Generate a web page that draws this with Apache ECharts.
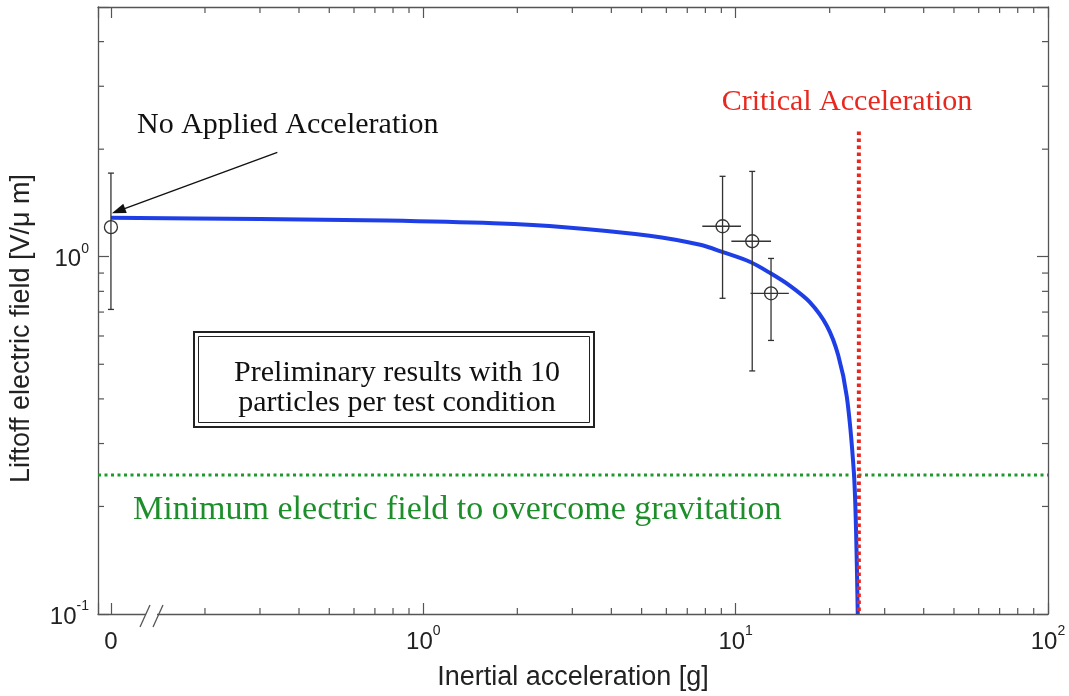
<!DOCTYPE html>
<html>
<head>
<meta charset="utf-8">
<script src="https://cdn.jsdelivr.net/npm/echarts@6/dist/echarts.min.js"></script>
<style>
  html, body { margin: 0; padding: 0; background: #fff; }
  #chart { width: 1069px; height: 696px; }
</style>
</head>
<body>
<div id="chart"></div>
<script>
// model curve (liftoff field vs inertial acceleration)
const curveX = [0.1, 0.3, 0.76, 1.68, 2.83, 5.3, 7.7, 9.1, 11.1, 12.9, 14.9, 17.3, 19.6, 21.3, 22.7, 23.9, 24.3, 24.6]
const curveY = [1.285, 1.275, 1.262, 1.24, 1.21, 1.145, 1.08, 1.03, 0.968, 0.9, 0.83, 0.745, 0.64, 0.53, 0.405, 0.25, 0.17, 0.1]

// measured points with error bars (x = 0.1 stands for "0" on the broken axis)
const pointX = [0.1, 9.08, 11.3, 12.98]
const pointY = [1.21, 1.217, 1.105, 0.79]
const pointYLow = [0.712, 0.765, 0.479, 0.583]
const pointYHigh = [1.714, 1.679, 1.733, 0.989]
const pointXLow = [0.1, 7.82, 9.69, 11.16]
const pointXHigh = [0.1, 10.4, 12.98, 14.8]

// reference lines
const criticalAcc = 24.8
const criticalTop = 2.24
const minField = 0.245

// axes
const xMin = 0.0909
const xMax = 100
const yMin = 0.1
const yMax = 5
const xMinorTicks = [0.2, 0.3, 0.4, 0.5, 0.6, 0.7, 0.8, 0.9, 2, 3, 4, 5, 6, 7, 8, 9, 20, 30, 40, 50, 60, 70, 80, 90]
const yMinorTicks = [0.2, 0.3, 0.4, 0.5, 0.6, 0.7, 0.8, 0.9, 2, 3, 4]

// arrow for "No Applied Acceleration"
const arrowFrom = [0.341, 1.96]
const arrowTo = [0.1057, 1.344]

const AX = '#555'
const SANS = '"Liberation Sans", Arial, Helvetica, sans-serif'
const SERIF = '"Liberation Serif", "Times New Roman", serif'

const powLabel = zeroAtMin => v => {
  const e = Math.log10(v)
  const r = Math.round(e)
  if (Math.abs(e - r) > 1e-6) return ''
  if (zeroAtMin && r === -1) return '{b|0}'
  return '{b|10}{s|' + r + '}'
}

const labelRich = {
  b: { fontSize: 24, lineHeight: 30, fontFamily: SANS, color: '#222', verticalAlign: 'bottom' },
  s: { fontSize: 14, lineHeight: 8, fontFamily: SANS, color: '#222', verticalAlign: 'top' }
}

const baseAxis = {
  type: 'log',
  logBase: 10,
  axisLine: { show: true, lineStyle: { color: AX, width: 1.3 } },
  axisTick: { show: true, inside: true, length: 11, lineStyle: { color: AX, width: 1.2 } },
  splitLine: { show: false },
  minorTick: { show: false }
}

const tickLine = (x1, y1, x2, y2) => ({
  type: 'line',
  shape: { x1, y1, x2, y2 },
  style: { stroke: AX, lineWidth: 1.2 }
})

const option = {
  animation: false,
  backgroundColor: '#fff',
  grid: { left: 98, right: 21, top: 7, bottom: 79, containLabel: false },
  xAxis: [
    {
      ...baseAxis,
      min: xMin,
      max: xMax,
      position: 'bottom',
      name: 'Inertial acceleration [g]',
      nameLocation: 'middle',
      nameGap: 50,
      nameTextStyle: { fontSize: 27, fontFamily: SANS, color: '#222' },
      axisLabel: { margin: 10, formatter: powLabel(true), rich: labelRich }
    },
    {
      ...baseAxis,
      min: xMin,
      max: xMax,
      position: 'top',
      axisLabel: { show: false }
    }
  ],
  yAxis: [
    {
      ...baseAxis,
      min: yMin,
      max: yMax,
      position: 'left',
      name: 'Liftoff electric field [V/\u03bc m]',
      nameLocation: 'middle',
      nameGap: 63,
      nameTextStyle: { fontSize: 27, fontFamily: SANS, color: '#222', padding: [0, 36, 0, 0] },
      axisLabel: { margin: 9, formatter: powLabel(false), rich: labelRich }
    },
    {
      ...baseAxis,
      min: yMin,
      max: yMax,
      position: 'right',
      axisLabel: { show: false }
    }
  ],
  series: [
    {
      name: 'model',
      type: 'line',
      data: curveX.map((x, i) => [x, curveY[i]]),
      smooth: 0.3,
      symbol: 'none',
      clip: true,
      z: 4,
      lineStyle: { color: '#1f3fe6', width: 4 },
      markLine: {
        silent: true,
        symbol: ['none', 'triangle'],
        symbolSize: [10, 14],
        label: { show: false },
        lineStyle: { color: '#111', width: 1.4, type: 'solid' },
        data: [[{ coord: arrowFrom }, { coord: arrowTo }]]
      }
    },
    {
      name: 'critical',
      type: 'line',
      data: [[criticalAcc, criticalTop], [criticalAcc, yMin]],
      symbol: 'none',
      z: 5,
      lineStyle: { color: '#e8281e', width: 4, type: [3.5, 3.5] }
    },
    {
      name: 'minimum',
      type: 'line',
      data: [[xMin, minField], [xMax, minField]],
      symbol: 'none',
      z: 3,
      lineStyle: { color: '#1d9a2a', width: 3, type: [3, 3.5] }
    },
    {
      name: 'measured',
      type: 'custom',
      z: 6,
      data: pointX.map((x, i) => [x, pointY[i], pointYLow[i], pointYHigh[i], pointXLow[i], pointXHigh[i]]),
      encode: { x: 0, y: 1 },
      renderItem: (params, api) => {
        const x = api.value(0), y = api.value(1)
        const c = api.coord([x, y])
        const lo = api.coord([x, api.value(2)])
        const hi = api.coord([x, api.value(3)])
        const l = api.coord([api.value(4), y])
        const r = api.coord([api.value(5), y])
        const st = { stroke: '#333', lineWidth: 1.3, fill: null }
        const kids = [
          { type: 'line', shape: { x1: c[0], y1: hi[1], x2: c[0], y2: lo[1] }, style: st },
          { type: 'line', shape: { x1: c[0] - 3, y1: hi[1], x2: c[0] + 3, y2: hi[1] }, style: st },
          { type: 'line', shape: { x1: c[0] - 3, y1: lo[1], x2: c[0] + 3, y2: lo[1] }, style: st },
          { type: 'circle', shape: { cx: c[0], cy: c[1], r: 6.5 }, style: { stroke: '#333', lineWidth: 1.3, fill: 'none' } }
        ]
        if (r[0] - l[0] > 1) {
          kids.push({ type: 'line', shape: { x1: l[0], y1: c[1], x2: r[0], y2: c[1] }, style: st })
        }
        return { type: 'group', children: kids }
      }
    },
    {
      name: 'xMinor',
      type: 'custom',
      silent: true,
      z: 2,
      data: xMinorTicks.map(v => [v, 1]),
      renderItem: (params, api) => {
        const p = api.coord([api.value(0), 1])
        const cs = params.coordSys
        const b = cs.y + cs.height
        return {
          type: 'group',
          children: [tickLine(p[0], b, p[0], b - 6), tickLine(p[0], cs.y, p[0], cs.y + 6)]
        }
      }
    },
    {
      name: 'yMinor',
      type: 'custom',
      silent: true,
      z: 2,
      data: yMinorTicks.map(v => [1, v]),
      renderItem: (params, api) => {
        const p = api.coord([1, api.value(1)])
        const cs = params.coordSys
        const rgt = cs.x + cs.width
        return {
          type: 'group',
          children: [tickLine(cs.x, p[1], cs.x + 6, p[1]), tickLine(rgt, p[1], rgt - 6, p[1])]
        }
      }
    }
  ],
  graphic: [
    // axis break marks near 0
    { type: 'rect', z: 100, shape: { x: 146, y: 612, width: 11, height: 10 }, style: { fill: '#fff' } },
    { type: 'line', z: 101, shape: { x1: 140, y1: 627, x2: 150, y2: 605 }, style: { stroke: AX, lineWidth: 1.3 } },
    { type: 'line', z: 101, shape: { x1: 153, y1: 627, x2: 163, y2: 605 }, style: { stroke: AX, lineWidth: 1.3 } },
    {
      type: 'text', z: 100, x: 137, y: 125,
      style: { text: 'No Applied Acceleration', font: '30px ' + SERIF, fill: '#111', textAlign: 'left', textVerticalAlign: 'middle' }
    },
    {
      type: 'text', z: 100, x: 847, y: 102,
      style: { text: 'Critical Acceleration', font: '30px ' + SERIF, fill: '#e8281e', textAlign: 'center', textVerticalAlign: 'middle' }
    },
    {
      type: 'text', z: 100, x: 133, y: 510,
      style: { text: 'Minimum electric field to overcome gravitation', font: '34px ' + SERIF, fill: '#1d8f2a', textAlign: 'left', textVerticalAlign: 'middle' }
    },
    { type: 'rect', z: 100, shape: { x: 194, y: 332, width: 400, height: 95 }, style: { fill: '#fff', stroke: '#222', lineWidth: 2 } },
    { type: 'rect', z: 101, shape: { x: 198.5, y: 336.5, width: 391, height: 86 }, style: { fill: 'none', stroke: '#222', lineWidth: 1 } },
    {
      type: 'text', z: 102, x: 397, y: 388,
      style: {
        text: 'Preliminary results with 10\nparticles per test condition',
        font: '30px ' + SERIF, lineHeight: 30, fill: '#111', textAlign: 'center', textVerticalAlign: 'middle'
      }
    }
  ]
}

const chart = echarts.init(document.getElementById('chart'))
chart.setOption(option)
</script>
</body>
</html>
